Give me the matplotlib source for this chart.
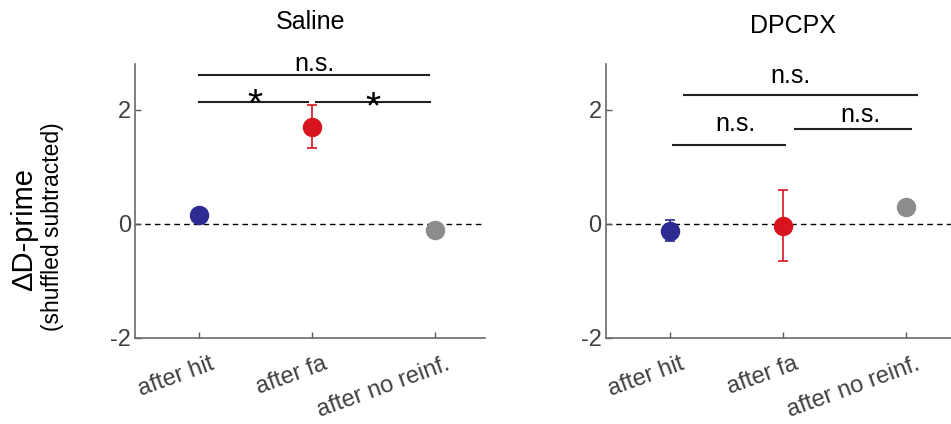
import matplotlib
import matplotlib.pyplot as plt
from matplotlib.transforms import ScaledTranslation

matplotlib.use('Agg')

plt.rcParams['font.family'] = ['Liberation Sans', 'DejaVu Sans']
plt.rcParams['axes.unicode_minus'] = False

# categories and values
conditions = ['after hit', 'after fa', 'after no reinf.']
colors = ['#2d2a92', '#d8151e', '#8a8c8e']

saline_mean = [0.15, 1.70, -0.11]
saline_err = [0.05, 0.38, 0.04]
dpcpx_mean = [-0.12, -0.03, 0.30]
dpcpx_err = [0.19, 0.62, 0.04]

# significance brackets: x1, x2, line y, label, text x, text baseline y
saline_sig = [(1.0, 2.97, 2.61, 'n.s.', 1.99, 2.68),
              (1.0, 1.93, 2.14, '*', 1.48, 1.90),
              (2.0, 2.98, 2.14, '*', 2.49, 1.85)]
dpcpx_sig = [(1.12, 3.12, 2.25, 'n.s.', 2.03, 2.46),
             (1.03, 1.99, 1.38, 'n.s.', 1.56, 1.62),
             (2.07, 3.07, 1.66, 'n.s.', 2.63, 1.79)]

x_pos = [1.0, 1.97, 3.02]
grey = '#5a5a5a'


def draw_panel(ax, means, errs, sig):
    ax.axhline(0, color='k', linestyle=(0, (4, 3)), linewidth=1, zorder=1)
    for x, m, e, c in zip(x_pos, means, errs, colors):
        ax.errorbar(x, m, yerr=e, fmt='o', color=c, markersize=13,
                    elinewidth=1.2, capsize=3.3, capthick=1.2, zorder=3)
    for x1, x2, y, label, tx, ty in sig:
        ax.plot([x1, x2], [y, y], color='#222222', linewidth=1.5, zorder=2)
        fs = 28 if label == '*' else 18
        ax.text(tx, ty, label, ha='center', va='baseline', fontsize=fs, color='k')
    ax.set_xlim(0.45, 3.45)
    ax.set_ylim(-2, 2.8)
    ax.set_yticks([-2, 0, 2])
    ax.set_xticks(x_pos)
    ax.set_xticklabels([])
    # matlab style rotated labels: the label end sits a bit right of the tick
    shift = ScaledTranslation(10 / 100, -15 / 100, fig.dpi_scale_trans)
    for x, name in zip(x_pos, conditions):
        ax.text(x, 0, name, transform=ax.get_xaxis_transform() + shift,
                rotation=20, ha='right', va='top', rotation_mode='anchor',
                fontsize=17, color='#404040')
    ax.tick_params(direction='in', length=4, color=grey, labelcolor='#404040',
                   labelsize=17, width=1)
    ax.tick_params(axis='y', pad=3)
    for s in ['top', 'right']:
        ax.spines[s].set_visible(False)
    for s in ['left', 'bottom']:
        ax.spines[s].set_color('#6a6a6a')
        ax.spines[s].set_linewidth(1.2)


fig = plt.figure(figsize=(9.51, 4.24), dpi=100)
ax1 = fig.add_axes([0.142, 0.203, 0.368, 0.646])
ax2 = fig.add_axes([0.637, 0.203, 0.368, 0.646])

draw_panel(ax1, saline_mean, saline_err, saline_sig)
draw_panel(ax2, dpcpx_mean, dpcpx_err, dpcpx_sig)

fig.text(0.327, 0.932, 'Saline', ha='center', va='baseline', fontsize=18)
fig.text(0.834, 0.922, 'DPCPX', ha='center', va='baseline', fontsize=18)

fig.text(0.025, 0.459, '\u0394D-prime', rotation=90, ha='center', va='center', fontsize=21)
fig.text(0.0547, 0.466, '(shuffled subtracted)', rotation=90, ha='center', va='center',
         fontsize=16.5)

plt.savefig('out.png', dpi=100)
